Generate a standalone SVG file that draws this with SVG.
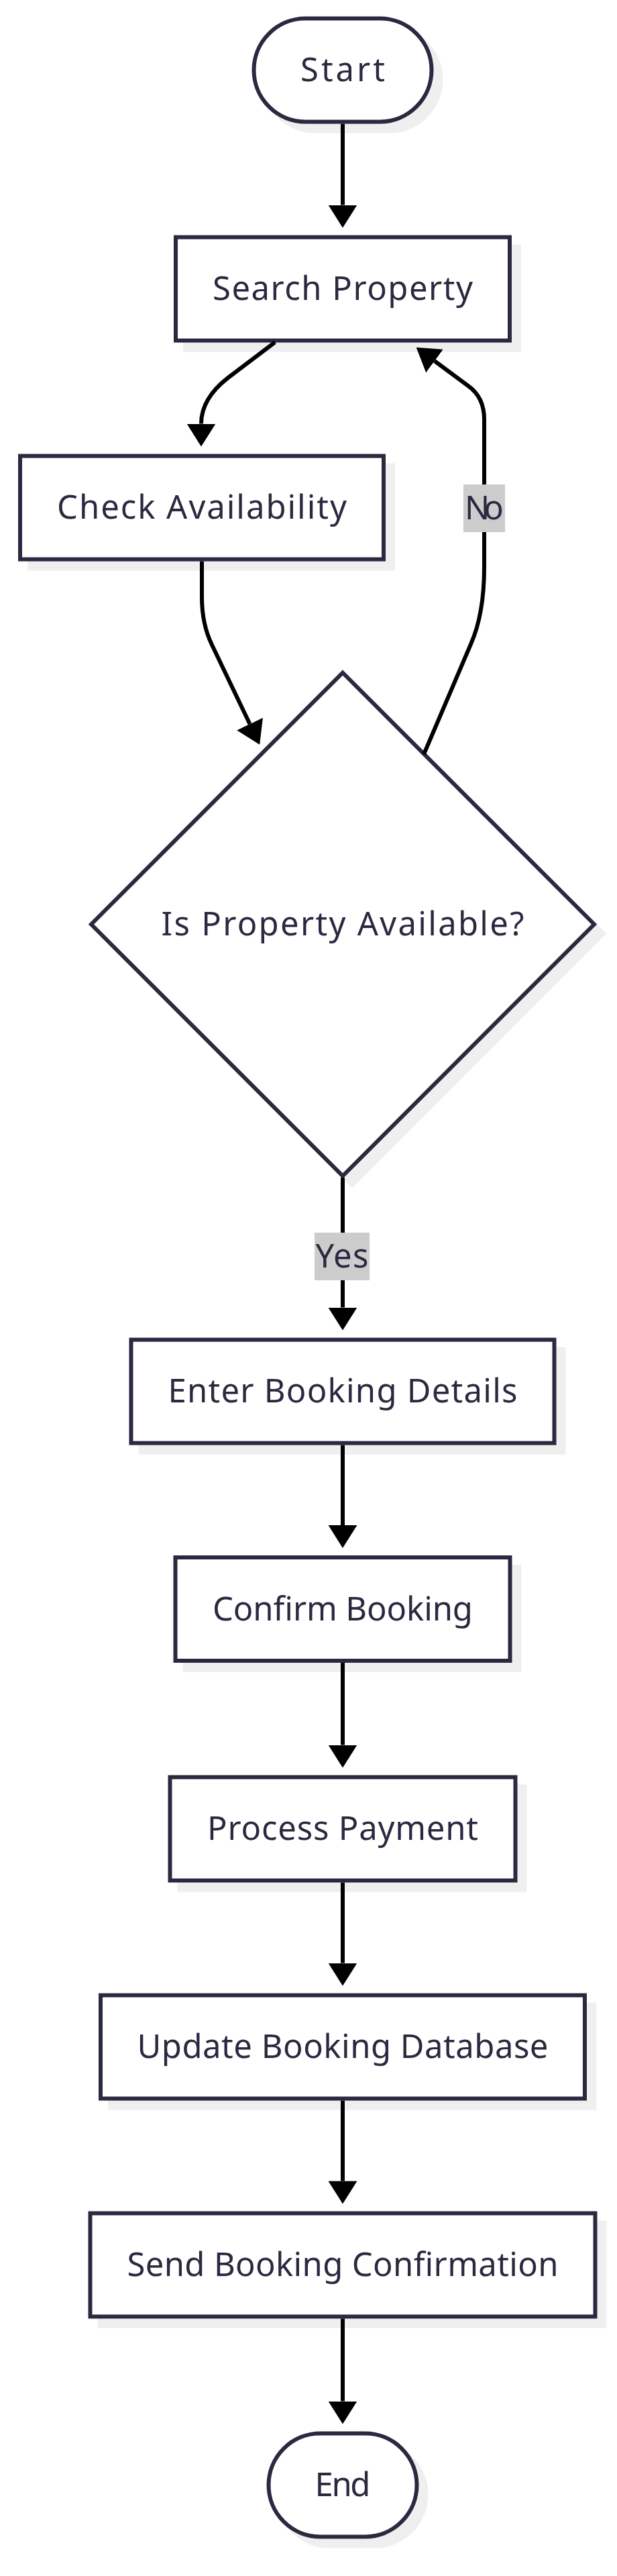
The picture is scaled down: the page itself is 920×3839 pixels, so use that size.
<svg xmlns="http://www.w3.org/2000/svg" width="920" height="3839" viewBox="0 0 920 3839">
<defs>
<marker id="arrow" markerUnits="userSpaceOnUse" markerWidth="34" markerHeight="43" viewBox="0 0 34 43" refX="0" refY="21.5" orient="auto"><path d="M0,0 L34,21.5 L0,43 Z" fill="#000"/></marker>
</defs>
<style>
.shadow{fill:#efefef;stroke:#efefef;stroke-width:6}
.box{fill:#fff;stroke:#2a2940;stroke-width:6}
.dia{fill:#fff;stroke:#2a2940;stroke-width:6}
.lbl{font-family:"Noto Sans","Liberation Sans",sans-serif;font-size:49px;fill:#2a2940;text-anchor:middle}
.edge{fill:none;stroke:#000;stroke-width:6;marker-end:url(#arrow)}
.ebg{fill:#cccccc}
</style>
<rect width="920" height="3839" fill="#fff"/>
<g id="start">
<rect class="shadow" x="392.5" y="41.5" width="265" height="154" rx="77"/>
<rect class="box" x="378.5" y="27.5" width="265" height="154" rx="77"/>
<text class="lbl" x="511" y="121" textLength="126">Start</text>
</g>
<g id="search-property">
<rect class="shadow" x="276" y="367.5" width="498" height="154"/>
<rect class="box" x="262" y="353.5" width="498" height="154"/>
<text class="lbl" x="511" y="447" textLength="388">Search Property</text>
</g>
<g id="check-availability">
<rect class="shadow" x="44" y="693.5" width="542" height="154"/>
<rect class="box" x="30" y="679.5" width="542" height="154"/>
<text class="lbl" x="301" y="773" textLength="432">Check Availability</text>
</g>
<g id="is-property-available">
<polygon class="shadow" points="525,1016.5 900,1391.5 525,1766.5 150,1391.5"/>
<polygon class="dia" points="511,1002.5 886,1377.5 511,1752.5 136,1377.5"/>
<text class="lbl" x="511" y="1394" textLength="541">Is Property Available?</text>
</g>
<g id="enter-booking-details">
<rect class="shadow" x="209.5" y="2010.6" width="631" height="154"/>
<rect class="box" x="195.5" y="1996.6" width="631" height="154"/>
<text class="lbl" x="511" y="2090" textLength="521">Enter Booking Details</text>
</g>
<g id="confirm-booking">
<rect class="shadow" x="275.5" y="2335" width="499" height="154"/>
<rect class="box" x="261.5" y="2321" width="499" height="154"/>
<text class="lbl" x="511" y="2414.5" textLength="388">Confirm Booking</text>
</g>
<g id="process-payment">
<rect class="shadow" x="267.5" y="2662.5" width="515" height="154"/>
<rect class="box" x="253.5" y="2648.5" width="515" height="154"/>
<text class="lbl" x="511" y="2742" textLength="404">Process Payment</text>
</g>
<g id="update-booking-database">
<rect class="shadow" x="164" y="2987.5" width="722" height="154"/>
<rect class="box" x="150" y="2973.5" width="722" height="154"/>
<text class="lbl" x="511" y="3067" textLength="613">Update Booking Database</text>
</g>
<g id="send-booking-confirmation">
<rect class="shadow" x="148.5" y="3312.4" width="753" height="154"/>
<rect class="box" x="134.5" y="3298.4" width="753" height="154"/>
<text class="lbl" x="511" y="3392" textLength="643">Send Booking Confirmation</text>
</g>
<g id="end">
<rect class="shadow" x="414.5" y="3640.5" width="221" height="154" rx="77"/>
<rect class="box" x="400.5" y="3626.5" width="221" height="154" rx="77"/>
<text class="lbl" x="511" y="3720" textLength="83">End</text>
</g>
<g id="connectors">
<path class="edge" d="M511,184.5 L511,305.5"/>
<path class="edge" d="M410,510 L340,563 Q300,594 300,631.5"/>
<path class="edge" d="M301,836.5 L301,890 Q301,930 316,961 L372.5,1079"/>
<path class="edge" d="M632,1124 L702,960 Q722,915 722,845 L722,625 Q722,592 698,575 L648,538"/>
<path class="edge" d="M511,1755 L511,1948.6"/>
<path class="edge" d="M511,2153.6 L511,2273"/>
<path class="edge" d="M511,2478 L511,2600.5"/>
<path class="edge" d="M511,2805.5 L511,2925.5"/>
<path class="edge" d="M511,3130.5 L511,3250.4"/>
<path class="edge" d="M511,3455.4 L511,3578.5"/>
<g id="label-no">
<rect class="ebg" x="691" y="722" width="62" height="71"/>
<text class="lbl" x="722" y="774" textLength="58">No</text>
</g>
<g id="label-yes">
<rect class="ebg" x="469" y="1837" width="82" height="71"/>
<text class="lbl" x="510" y="1889" textLength="79">Yes</text>
</g>
</g>
</svg>
